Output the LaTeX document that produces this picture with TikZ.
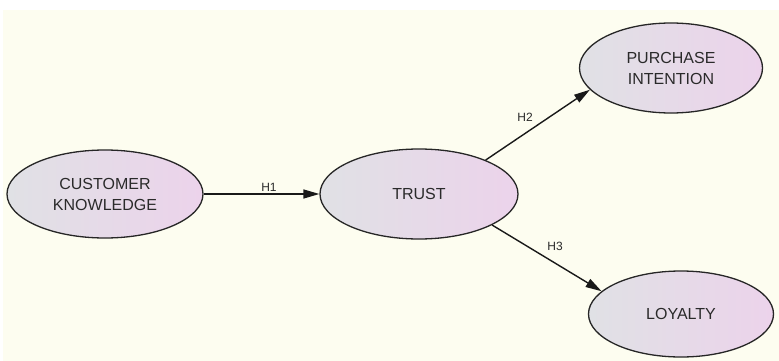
\documentclass[tikz,border=0pt]{standalone}
\usepackage{fontspec}
\setmainfont{Liberation Sans}
\usetikzlibrary{arrows.meta,shapes.geometric}
\definecolor{paper}{HTML}{FDFDF0}
\definecolor{fillL}{HTML}{E0E1E5}
\definecolor{fillR}{HTML}{ECD3EB}
\definecolor{ink}{HTML}{2A2A2A}
\tikzset{
  construct/.style={ellipse, draw=black!85, line width=1.3pt,
    left color=fillL, right color=fillR, text=ink,
    font=\fontsize{16}{21}\selectfont, align=center, inner sep=0pt},
  link/.style={draw=black!90, line width=1.4pt,
    -{Triangle[length=16pt,width=9pt]}},
  hyp/.style={text=ink, font=\fontsize{12}{13}\selectfont, inner sep=0pt}
}
\begin{document}
\begin{tikzpicture}[x=1pt,y=-1pt]
  \useasboundingbox (0,0) rectangle (779,361);
  \fill[white] (0,0) rectangle (779,361);
  \fill[paper] (3,10) rectangle (779,361);

  % latent constructs
  \node[construct, minimum width=196pt, minimum height=88pt] (ck) at (105,194) {CUSTOMER\\KNOWLEDGE};
  \node[construct, minimum width=198pt, minimum height=90pt] (tr) at (419,194) {TRUST};
  \node[construct, minimum width=183pt, minimum height=90pt] (pi) at (671,68) {PURCHASE\\INTENTION};
  \node[construct, minimum width=185pt, minimum height=86pt] (lo) at (681,314) {LOYALTY};

  % hypothesised paths
  \draw[link] (ck) -- (tr);
  \draw[link] (tr.27) -- (pi.195);
  \draw[link] (tr.-23) -- (lo.164);

  \node[hyp] (h1) at (269,187) {H1};
  \node[hyp] (h2) at (525,117) {H2};
  \node[hyp] (h3) at (555,246) {H3};
\end{tikzpicture}
\end{document}
